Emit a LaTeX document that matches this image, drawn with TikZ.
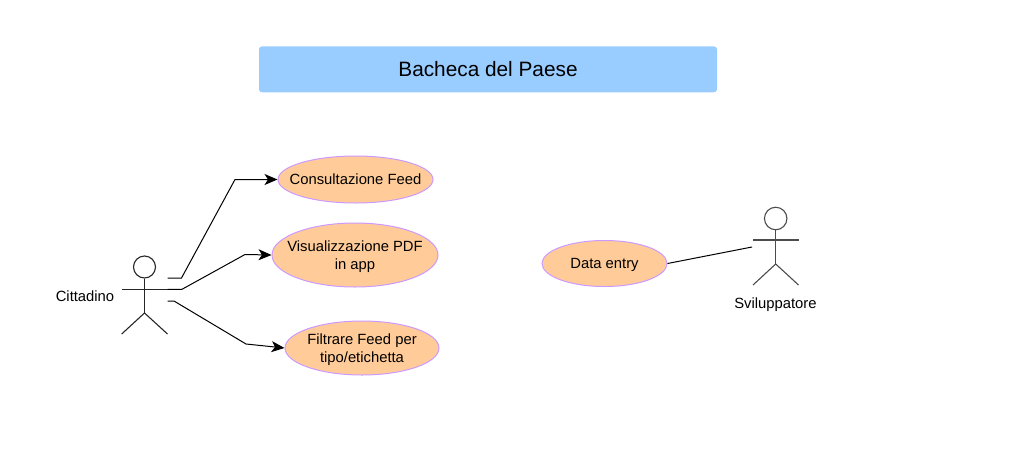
\documentclass[tikz,border=0pt]{standalone}
\usepackage{fontspec}
\setmainfont{Liberation Sans}
\usetikzlibrary{shapes.geometric,arrows.meta}
\definecolor{titleblue}{HTML}{99CCFF}
\definecolor{usefill}{HTML}{FFCC99}
\definecolor{useline}{HTML}{CC99FF}
\newcommand{\usetext}[2][-4.8pt]{\raisebox{#1}[0pt][0pt]{\makebox[0pt]{\begin{tabular}{@{}c@{}}#2\end{tabular}}}}
\tikzset{
  usecase/.style={ellipse,draw=useline,fill=usefill,line width=1pt,inner sep=0pt,font=\fontsize{14.8}{18.5}\selectfont},
  actorline/.style={draw=black!85,line width=1.1pt},
  link/.style={draw=black,line width=1pt,line join=miter},
  arrowlink/.style={link,-{Stealth[length=13pt,width=11pt,inset=3.5pt]}},
  label/.style={font=\fontsize{14.8}{18}\selectfont,inner sep=0pt}
}
\begin{document}
\begin{tikzpicture}[x=1pt,y=-1pt]
\useasboundingbox (0,0) rectangle (1009,453);
\node[rounded corners=3pt,fill=titleblue,minimum width=458pt,minimum height=46pt,inner sep=0pt,font=\fontsize{20.8}{25}\selectfont] (title) at (488,69.3) {\raisebox{-1pt}{Bacheca del Paese}};
\node[usecase,minimum width=155pt,minimum height=47pt] (feed) at (355.5,179.5) {\usetext{Consultazione Feed}};
\node[usecase,minimum width=166pt,minimum height=64pt] (pdf) at (355,255) {\usetext[-5.6pt]{Visualizzazione PDF\\in app}};
\node[usecase,minimum width=154pt,minimum height=54pt] (filter) at (362,348) {\usetext[-5.6pt]{Filtrare Feed per\\tipo/etichetta}};
\node[usecase,minimum width=125pt,minimum height=46pt] (data) at (604.5,263.5) {\usetext{Data entry}};
% Cittadino
\node[circle,actorline,minimum size=22pt,inner sep=0pt] (head1) at (144.5,267) {};
\coordinate (neck1) at (144.5,313);
\coordinate (armL1) at (121.7,289.3);
\coordinate (armR1) at (167.5,289.3);
\coordinate (legL1) at (121.7,334);
\coordinate (legR1) at (167.5,334);
\draw[actorline] (head1.south) -- (neck1);
\draw[actorline] (armL1) -- (armR1);
\draw[actorline] (legL1) -- (neck1) -- (legR1);
\node[label] (cit) at (85,296.5) {Cittadino};
% Sviluppatore
\node[circle,actorline,draw=black!70,minimum size=22.5pt,inner sep=0pt] (head2) at (775.7,218.5) {};
\coordinate (neck2) at (775.7,264);
\coordinate (armL2) at (753,240);
\coordinate (armR2) at (798.5,240);
\coordinate (legL2) at (753,285);
\coordinate (legR2) at (798.5,285);
\draw[actorline,draw=black!70] (head2.south) -- (neck2);
\draw[actorline,draw=black!70] (armL2) -- (armR2);
\draw[actorline,draw=black!70] (legL2) -- (neck2) -- (legR2);
\node[label] (svi) at (775.5,305) {Sviluppatore};
% Connectors
\coordinate (s1) at (167.5,278);
\coordinate (s3) at (167.5,301);
\draw[arrowlink] (s1) -- (181.5,278) -- (235,179.5) -- (feed.west);
\draw[arrowlink] (armR1) -- (182,289.3) -- (245,254.5) -- (pdf.west);
\draw[arrowlink] (s3) -- (174,301) -- (246,344) -- (filter.west);
\coordinate (s4) at (752,247);
\draw[link] (data.east) -- (s4);
\end{tikzpicture}
\end{document}
